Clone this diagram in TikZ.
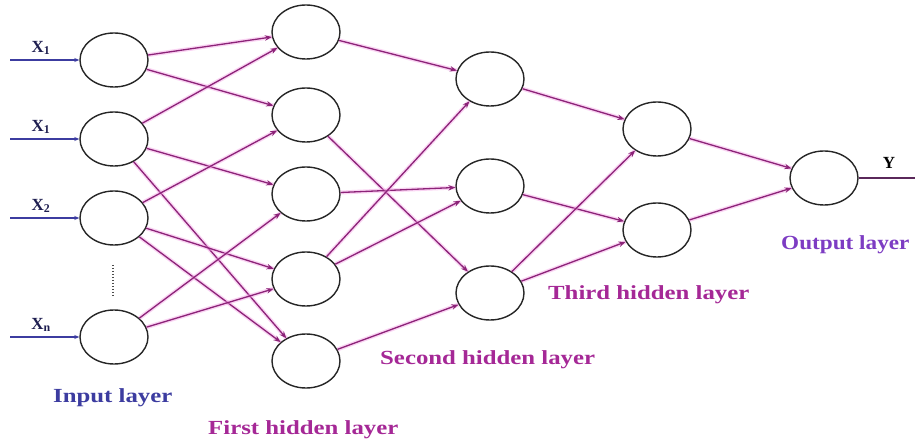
\documentclass[tikz,border=0pt]{standalone}
\usepackage{fontspec}
\setmainfont{Liberation Serif}
\usetikzlibrary{shapes.geometric,arrows.meta}
\definecolor{edgec}{RGB}{140,35,120}
\definecolor{edgeglow}{RGB}{245,160,230}
\definecolor{inblue}{RGB}{60,60,160}
\definecolor{labmag}{RGB}{165,40,150}
\definecolor{outvio}{RGB}{125,60,195}
\definecolor{xlab}{RGB}{30,30,80}
\definecolor{ylinec}{RGB}{90,40,90}
\newcommand{\widetext}[1]{\scalebox{1.24}[1]{#1}}
\begin{document}
\begin{tikzpicture}[x=1pt,y=-1pt,
 neuron/.style={ellipse,draw=black!85,line width=1.4pt,minimum width=68pt,minimum height=54pt,inner sep=0pt},
 conn/.style={draw=edgec,line width=1.3pt,-{Stealth[length=7pt,width=5.5pt]},
   preaction={draw=edgeglow,line width=4pt,opacity=0.45,-}},
 inarrow/.style={draw=inblue,line width=1.2pt,-{Stealth[length=5pt,width=4pt]}},
 layerlab/.style={font=\bfseries\fontsize{20}{22}\selectfont,inner sep=0pt,anchor=west},
 xlabel/.style={font=\bfseries\fontsize{17}{18}\selectfont,text=xlab,inner sep=0pt}]
\useasboundingbox[fill=white] (0,0) rectangle (915,443);

% input layer
\node[neuron] (i1) at (114,60) {};
\node[neuron] (i2) at (114,139) {};
\node[neuron] (i3) at (114,218) {};
\node[neuron] (in) at (114,337) {};
% first hidden layer
\node[neuron] (a1) at (306,32) {};
\node[neuron] (a2) at (306,115) {};
\node[neuron] (a3) at (306,194) {};
\node[neuron] (a4) at (306,279) {};
\node[neuron] (a5) at (306,361) {};
% second hidden layer
\node[neuron] (b1) at (490,79) {};
\node[neuron] (b2) at (490,186) {};
\node[neuron] (b3) at (490,293) {};
% third hidden layer
\node[neuron] (c1) at (657,129) {};
\node[neuron] (c2) at (657,230) {};
% output
\node[neuron] (o) at (824,178) {};

% input arrows and labels
\coordinate (s1) at (10,60);
\coordinate (s2) at (10,139);
\coordinate (s3) at (10,218);
\coordinate (sn) at (10,337);
\draw[inarrow] (s1) -- (i1);
\draw[inarrow] (s2) -- (i2);
\draw[inarrow] (s3) -- (i3);
\draw[inarrow] (sn) -- (in);
\node[xlabel] (x1) at (41,48) {X\textsubscript{1}};
\node[xlabel] (x1b) at (41,127) {X\textsubscript{1}};
\node[xlabel] (x2) at (41,206) {X\textsubscript{2}};
\node[xlabel] (xn) at (41,325) {X\textsubscript{n}};

% dots
\coordinate (d1) at (113,265);
\coordinate (d2) at (113,297);
\draw[black!70,line width=1.3pt,dash pattern=on 1.2pt off 1.8pt] (d1) -- (d2);

% input -> first hidden
\foreach \u/\v in {i1/a1,i1/a2,i2/a1,i2/a3,i2/a5,i3/a2,i3/a4,i3/a5,in/a3,in/a4}
  \draw[conn] (\u) -- (\v);
% first -> second
\foreach \u/\v in {a1/b1,a2/b3,a3/b2,a4/b1,a4/b2,a5/b3}
  \draw[conn] (\u) -- (\v);
% second -> third
\foreach \u/\v in {b1/c1,b2/c2,b3/c1,b3/c2}
  \draw[conn] (\u) -- (\v);
% third -> output
\foreach \u/\v in {c1/o,c2/o}
  \draw[conn] (\u) -- (\v);

% output line
\coordinate (yend) at (915,178);
\draw[ylinec,line width=1.2pt] (o) -- (yend);
\node[xlabel,text=black] (ylab) at (889,163) {Y};

% layer labels
\node[layerlab,text=inblue] (linput) at (53,398) {\widetext{Input layer}};
\node[layerlab,text=labmag] (lfirst) at (208,430) {\widetext{First hidden layer}};
\node[layerlab,text=labmag] (lsecond) at (380,360) {\widetext{Second hidden layer}};
\node[layerlab,text=labmag] (lthird) at (548,295) {\widetext{Third hidden layer}};
\node[layerlab,text=outvio] (lout) at (781,245) {\scalebox{1.16}[1]{Output layer}};
\end{tikzpicture}
\end{document}
